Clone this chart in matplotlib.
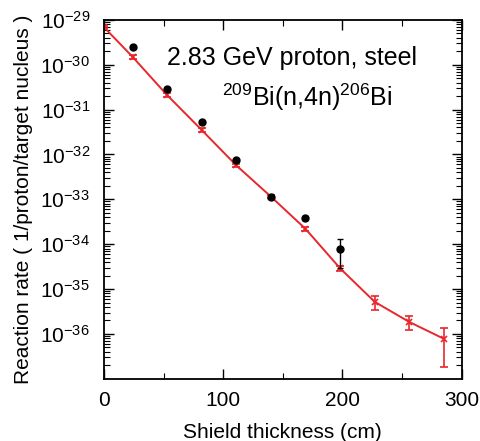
import matplotlib
matplotlib.use("Agg")
import matplotlib.pyplot as plt
from matplotlib.ticker import LogLocator, MultipleLocator, NullFormatter

plt.rcParams['font.family'] = ['Liberation Sans', 'DejaVu Sans']
plt.rcParams['mathtext.fontset'] = 'custom'
plt.rcParams['mathtext.rm'] = 'Liberation Sans'
plt.rcParams['mathtext.it'] = 'Liberation Sans'

# Calculated (red) values
calc_x = [0, 24, 53, 82, 111, 140, 169, 198, 227, 256, 285]
calc_y = [6.9e-30, 1.5e-30, 2.1e-31, 3.5e-32, 5.7e-33, 1.15e-33, 2.2e-34, 2.9e-35, 5.2e-36, 1.85e-36, 7.8e-37]
calc_err = [4e-31, 1.5e-31, 2e-32, 3e-33, 4e-34, 8e-35, 2e-35, 4e-36, 1.7e-36, 0.6e-36, 6e-37]

# Measured (black) values
meas_x = [24, 53, 82, 111, 140, 169, 198]
meas_y = [2.5e-30, 2.9e-31, 5.2e-32, 7.5e-33, 1.15e-33, 3.9e-34, 8.0e-35]
meas_err = [1e-31, 1.5e-32, 2.5e-33, 4e-34, 6e-35, 4e-35, 5e-35]

yticks = [1e-29, 1e-30, 1e-31, 1e-32, 1e-33, 1e-34, 1e-35, 1e-36]

red = '#e8262c'

fig = plt.figure(figsize=(4.81, 4.41), dpi=100)
ax = fig.add_axes([0.216, 0.141, 0.744, 0.814])

ax.errorbar(calc_x, calc_y, yerr=calc_err, color=red, lw=1.4, marker='x',
            ms=4, mew=1.2, capsize=3, elinewidth=1.2, capthick=1.2, zorder=2)
ax.errorbar(meas_x, meas_y, yerr=meas_err, color='black', ls='none', marker='o',
            ms=5, capsize=2.5, elinewidth=1.0, capthick=1.0, zorder=3)

ax.set_yscale('log')
ax.set_xlim(0, 300)
ax.yaxis.set_minor_locator(LogLocator(base=10, subs=range(2, 10), numticks=20))
ax.yaxis.set_minor_formatter(NullFormatter())
ax.set_yticks(yticks)
ax.set_ylim(1e-37, 1e-29)
ax.xaxis.set_major_locator(MultipleLocator(100))
ax.xaxis.set_minor_locator(MultipleLocator(50))

ax.tick_params(which='both', direction='in', top=True, right=True, labelsize=15)
ax.tick_params(which='major', length=7, width=1.0)
ax.tick_params(which='minor', length=4, width=0.8)
ax.tick_params(axis='x', pad=9)
ax.tick_params(axis='y', pad=10)
for s in ax.spines.values():
    s.set_linewidth(1.3)

ax.set_xlabel('Shield thickness (cm)', fontsize=15, labelpad=9)
ax.set_ylabel('Reaction rate ( 1/proton/target nucleus )', fontsize=15, labelpad=5)

ax.text(0.525, 0.894, '2.83 GeV proton, steel', transform=ax.transAxes,
        ha='center', va='center', fontsize=18)
ax.text(0.568, 0.785, r'$^{209}$Bi(n,4n)$^{206}$Bi', transform=ax.transAxes,
        ha='center', va='center', fontsize=18)

fig.savefig('out.png', dpi=100)
